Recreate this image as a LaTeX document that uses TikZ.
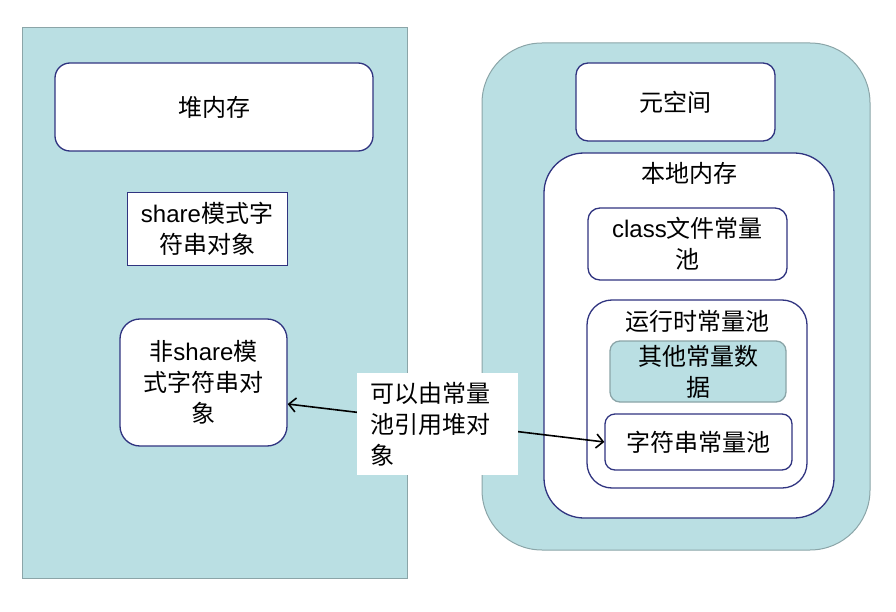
\documentclass[tikz,border=0pt]{standalone}
\usepackage{fontspec}
\setmainfont{Noto Sans CJK SC}
\newfontfamily\lat{Liberation Sans}
\usetikzlibrary{arrows.meta}
\definecolor{teal}{RGB}{186,223,227}
\definecolor{grayedge}{RGB}{139,165,168}
\definecolor{navy}{RGB}{48,52,128}
\tikzset{
  panel/.style={draw=grayedge, fill=teal, line width=1pt, inner sep=0pt},
  box/.style={draw=navy, fill=white, line width=1.3pt, inner sep=0pt, align=center, font=\fontsize{24}{31}\selectfont},
  tealbox/.style={draw=grayedge, fill=teal, line width=1.3pt, inner sep=0pt, align=center, font=\fontsize{24}{31}\selectfont},
  plain/.style={inner sep=0pt, align=center, font=\fontsize{24}{31}\selectfont},
  conn/.style={line width=1.6pt, draw=black, {Straight Barb[length=7pt,width=14pt]}-{Straight Barb[length=7pt,width=14pt]}},
  note/.style={fill=white, inner xsep=13pt, inner ysep=0pt, text width=135pt, align=left, minimum height=102pt, font=\fontsize{24}{31}\selectfont}
}
\begin{document}
\begin{tikzpicture}[x=1pt,y=-1pt]
\useasboundingbox (0,0) rectangle (896,612);
% panels
\node[panel, minimum width=385pt, minimum height=550pt] (heapPanel) at (214.5,303) {};
\node[panel, rounded corners=60pt, minimum width=388pt, minimum height=507pt] (metaPanel) at (676,296.5) {};
% left side
\node[box, rounded corners=15pt, minimum width=318pt, minimum height=88pt] (heap) at (214,107) {堆内存};
\node[box, line width=1pt, minimum width=160pt, minimum height=72pt] (share) at (207,229) {{\lat share}模式字\\符串对象};
\node[box, rounded corners=20pt, minimum width=167pt, minimum height=127pt] (nonshare) at (203.5,382.5) {非{\lat share}模\\式字符串对\\象};
% right side
\node[box, rounded corners=12pt, minimum width=199pt, minimum height=78pt] (meta) at (675.5,102) {元空间};
\node[box, rounded corners=40pt, minimum width=290pt, minimum height=365pt] (local) at (689,335.5) {};
\node[plain] (localLabel) at (689,173) {本地内存};
\node[box, rounded corners=12pt, minimum width=199pt, minimum height=72pt] (classpool) at (687.5,244) {{\lat class}文件常量\\池};
\node[box, rounded corners=25pt, minimum width=220pt, minimum height=188pt] (runtime) at (697,394) {};
\node[plain] (runtimeLabel) at (697,321) {运行时常量池};
\node[tealbox, rounded corners=10pt, minimum width=176pt, minimum height=61pt] (other) at (698,371.5) {其他常量数\\据};
\node[box, rounded corners=10pt, minimum width=187pt, minimum height=56pt] (strpool) at (698.5,442) {字符串常量池};
% connector
\draw[conn] ([yshift=-21.5pt]nonshare.east) -- (strpool.west);
\node[note] (label) at (437.5,424) {可以由常量\\池引用堆对\\象};
\end{tikzpicture}
\end{document}
